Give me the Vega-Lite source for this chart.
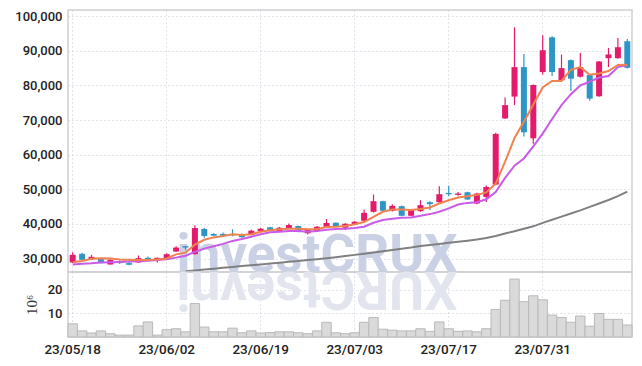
{
"$schema":"https://vega.github.io/schema/vega-lite/v6.json",
"padding":{"left":14,"top":9,"right":10,"bottom":5},
"background":"white",
"spacing":0,
"bounds":"flush",
"config":{
 "view":{"stroke":"#cfcfd4","strokeWidth":1.5},
 "axis":{"labelFont":"Roboto","labelFontWeight":500,"labelFontSize":13,"labelColor":"#222222","gridColor":"#c3c8da","gridDash":[1,3],"gridWidth":1,"domain":false,"ticks":false,"labelPadding":6,"labelOverlap":false}
},
"datasets":{"k":[
{"d":"23/05/18","o":28850,"h":31840,"l":28700,"c":31060,"v":5.6,"m5":28900,"m20":28300,"m60":null},
{"d":"23/05/19","o":31350,"h":31640,"l":29500,"c":29630,"v":2.6,"m5":29300,"m20":28450,"m60":null},
{"d":"23/05/22","o":29710,"h":31060,"l":29600,"c":30490,"v":1.7,"m5":29900,"m20":28600,"m60":null},
{"d":"23/05/23","o":29830,"h":30110,"l":28600,"c":28680,"v":2.6,"m5":30050,"m20":28850,"m60":null},
{"d":"23/05/24","o":28280,"h":29800,"l":28200,"c":29630,"v":1.4,"m5":30000,"m20":28950,"m60":null},
{"d":"23/05/25","o":29140,"h":29500,"l":28400,"c":28680,"v":0.8,"m5":29700,"m20":29000,"m60":null},
{"d":"23/05/26","o":28680,"h":28900,"l":28050,"c":28190,"v":0.8,"m5":29650,"m20":29100,"m60":null},
{"d":"23/05/30","o":28850,"h":30860,"l":28800,"c":30110,"v":4.7,"m5":29600,"m20":29200,"m60":null},
{"d":"23/05/31","o":30200,"h":30550,"l":29400,"c":29830,"v":6.4,"m5":29600,"m20":29350,"m60":null},
{"d":"23/06/01","o":29710,"h":30300,"l":28850,"c":30200,"v":0.8,"m5":29700,"m20":29550,"m60":null},
{"d":"23/06/02","o":30110,"h":31500,"l":30000,"c":31260,"v":3.1,"m5":30000,"m20":29800,"m60":null},
{"d":"23/06/05","o":32010,"h":33560,"l":31900,"c":33160,"v":3.5,"m5":31200,"m20":30250,"m60":null},
{"d":"23/06/07","o":33560,"h":33700,"l":32500,"c":33160,"v":2.2,"m5":31700,"m20":30800,"m60":26300},
{"d":"23/06/08","o":31260,"h":39600,"l":31100,"c":38800,"v":14.2,"m5":34000,"m20":31900,"m60":26550},
{"d":"23/06/09","o":38520,"h":38800,"l":36030,"c":36510,"v":4.2,"m5":35400,"m20":32850,"m60":26800},
{"d":"23/06/12","o":37090,"h":37300,"l":36400,"c":36600,"v":2.2,"m5":36100,"m20":33550,"m60":27050},
{"d":"23/06/13","o":37090,"h":37500,"l":36200,"c":36510,"v":2.2,"m5":36500,"m20":34220,"m60":27300},
{"d":"23/06/14","o":36850,"h":38440,"l":36400,"c":36700,"v":3.75,"m5":37000,"m20":35080,"m60":27550},
{"d":"23/06/15","o":37000,"h":37200,"l":36000,"c":36140,"v":1.8,"m5":36800,"m20":35650,"m60":27800},
{"d":"23/06/16","o":36800,"h":38300,"l":36700,"c":38040,"v":2.6,"m5":37000,"m20":36310,"m60":28050},
{"d":"23/06/19","o":37860,"h":38800,"l":37700,"c":38610,"v":1.7,"m5":37750,"m20":37000,"m60":28300},
{"d":"23/06/20","o":39010,"h":39200,"l":37900,"c":38040,"v":1.9,"m5":38150,"m20":37580,"m60":28550},
{"d":"23/06/21","o":37950,"h":39100,"l":37800,"c":38900,"v":2.2,"m5":38440,"m20":37750,"m60":28800},
{"d":"23/06/22","o":38720,"h":40100,"l":38600,"c":39670,"v":2.2,"m5":38610,"m20":37950,"m60":29050},
{"d":"23/06/23","o":39380,"h":39500,"l":37600,"c":37750,"v":1.8,"m5":38610,"m20":37950,"m60":29300},
{"d":"23/06/26","o":37290,"h":38600,"l":36900,"c":38440,"v":1.4,"m5":38440,"m20":37750,"m60":29550},
{"d":"23/06/27","o":37950,"h":39400,"l":37800,"c":39180,"v":2.6,"m5":38500,"m20":37950,"m60":29800},
{"d":"23/06/28","o":39150,"h":41390,"l":39000,"c":40250,"v":6.25,"m5":39100,"m20":38300,"m60":30050},
{"d":"23/06/29","o":40330,"h":40400,"l":39100,"c":39180,"v":1.8,"m5":39180,"m20":38530,"m60":30350},
{"d":"23/06/30","o":38900,"h":40200,"l":38300,"c":40050,"v":1.4,"m5":39380,"m20":38610,"m60":30700},
{"d":"23/07/03","o":39870,"h":40800,"l":39700,"c":40620,"v":1.8,"m5":39870,"m20":38810,"m60":31050},
{"d":"23/07/04","o":40910,"h":44180,"l":40800,"c":43200,"v":6.25,"m5":40530,"m20":39180,"m60":31400},
{"d":"23/07/05","o":43490,"h":48480,"l":43300,"c":46560,"v":8.3,"m5":42050,"m20":40330,"m60":31750},
{"d":"23/07/06","o":46560,"h":46700,"l":43700,"c":43780,"v":3.3,"m5":43490,"m20":41110,"m60":32100},
{"d":"23/07/07","o":43780,"h":45700,"l":43600,"c":45210,"v":2.9,"m5":44180,"m20":41480,"m60":32450},
{"d":"23/07/10","o":45120,"h":45300,"l":42200,"c":42340,"v":2.6,"m5":44180,"m20":41770,"m60":32800},
{"d":"23/07/11","o":42340,"h":44100,"l":42200,"c":43980,"v":2.6,"m5":43980,"m20":41880,"m60":33150},
{"d":"23/07/12","o":43690,"h":46850,"l":43500,"c":45410,"v":3.5,"m5":44300,"m20":42340,"m60":33600},
{"d":"23/07/13","o":46270,"h":46550,"l":44000,"c":45700,"v":2.4,"m5":44750,"m20":42830,"m60":33900},
{"d":"23/07/14","o":46270,"h":50860,"l":46100,"c":48570,"v":6.4,"m5":45900,"m20":43490,"m60":34200},
{"d":"23/07/17","o":48940,"h":51000,"l":48000,"c":48570,"v":3.5,"m5":46850,"m20":44470,"m60":34550},
{"d":"23/07/18","o":48370,"h":49200,"l":48100,"c":48770,"v":2.4,"m5":47600,"m20":45600,"m60":34850},
{"d":"23/07/19","o":49140,"h":49300,"l":46950,"c":47050,"v":2.6,"m5":47990,"m20":46070,"m60":35150},
{"d":"23/07/20","o":45900,"h":49000,"l":45700,"c":48770,"v":2.2,"m5":48380,"m20":46270,"m60":35500},
{"d":"23/07/21","o":47790,"h":51100,"l":46360,"c":50660,"v":3.5,"m5":49100,"m20":47100,"m60":35950},
{"d":"23/07/24","o":51350,"h":66300,"l":51200,"c":66000,"v":11.7,"m5":51640,"m20":49230,"m60":36500},
{"d":"23/07/25","o":70470,"h":76490,"l":70300,"c":74310,"v":15.6,"m5":58000,"m20":53300,"m60":37200},
{"d":"23/07/26","o":76780,"h":96780,"l":74310,"c":85300,"v":24.6,"m5":64800,"m20":56800,"m60":37900},
{"d":"23/07/27","o":85300,"h":89120,"l":65220,"c":66460,"v":15.0,"m5":69500,"m20":58900,"m60":38600},
{"d":"23/07/28","o":64730,"h":80300,"l":63120,"c":80140,"v":17.5,"m5":74500,"m20":62400,"m60":39300},
{"d":"23/07/31","o":83870,"h":94490,"l":83200,"c":90180,"v":15.8,"m5":79400,"m20":66100,"m60":40300},
{"d":"23/08/01","o":93910,"h":94200,"l":82720,"c":83870,"v":9.3,"m5":81290,"m20":70300,"m60":41200},
{"d":"23/08/02","o":81490,"h":88940,"l":81300,"c":85010,"v":8.3,"m5":81290,"m20":74310,"m60":42100},
{"d":"23/08/03","o":87310,"h":87500,"l":78420,"c":81950,"v":6.25,"m5":84500,"m20":77470,"m60":43000},
{"d":"23/08/04","o":82520,"h":89410,"l":82300,"c":85300,"v":8.9,"m5":85300,"m20":80000,"m60":43900},
{"d":"23/08/07","o":83010,"h":83200,"l":75550,"c":76200,"v":4.6,"m5":83100,"m20":81090,"m60":44900},
{"d":"23/08/08","o":76880,"h":87100,"l":76700,"c":86920,"v":10.0,"m5":83450,"m20":82300,"m60":45900},
{"d":"23/08/09","o":87880,"h":90840,"l":85300,"c":88950,"v":7.5,"m5":84160,"m20":82720,"m60":46900},
{"d":"23/08/10","o":87880,"h":93710,"l":87700,"c":91050,"v":7.5,"m5":85900,"m20":85300,"m60":48000},
{"d":"23/08/11","o":92770,"h":93400,"l":84900,"c":85110,"v":5.1,"m5":85950,"m20":85880,"m60":49300}
],
"wm":[{"d":"23/06/27","t":"investCRUX","r":"XURCtsevni"}]},
"resolve":{"scale":{"x":"shared"}},
"vconcat":[
{
 "width":564,"height":262,
 "encoding":{
  "x":{"field":"d","type":"ordinal","scale":{"paddingInner":0,"paddingOuter":0,"domain":["23/05/18","23/05/19","23/05/22","23/05/23","23/05/24","23/05/25","23/05/26","23/05/30","23/05/31","23/06/01","23/06/02","23/06/05","23/06/07","23/06/08","23/06/09","23/06/12","23/06/13","23/06/14","23/06/15","23/06/16","23/06/19","23/06/20","23/06/21","23/06/22","23/06/23","23/06/26","23/06/27","23/06/28","23/06/29","23/06/30","23/07/03","23/07/04","23/07/05","23/07/06","23/07/07","23/07/10","23/07/11","23/07/12","23/07/13","23/07/14","23/07/17","23/07/18","23/07/19","23/07/20","23/07/21","23/07/24","23/07/25","23/07/26","23/07/27","23/07/28","23/07/31","23/08/01","23/08/02","23/08/03","23/08/04","23/08/07","23/08/08","23/08/09","23/08/10","23/08/11"]},
   "axis":{"title":null,"labels":false,"grid":true,"bandPosition":0.5,"values":["23/05/18","23/06/02","23/06/19","23/07/03","23/07/17","23/07/31"]}}
 },
 "layer":[
  {"data":{"name":"k"},"mark":{"type":"rule","strokeWidth":1.2,"opacity":0},
   "encoding":{"y":{"field":"l","type":"quantitative","scale":{"domain":[26100,101800],"nice":false,"zero":false},
     "axis":{"title":null,"grid":true,"labelOverlap":false,"tickCount":8,"values":[30000,40000,50000,60000,70000,80000,90000,100000],"format":",d"}},
    "y2":{"field":"h"}}},
  {"data":{"name":"wm"},"mark":{"type":"text","font":"Roboto","fontWeight":"bold","fontSize":53,"color":"#cbd1e5","baseline":"alphabetic","align":"center"},
   "encoding":{"text":{"field":"t"},"y":{"datum":26100,"type":"quantitative"}}},
  {"data":{"name":"k"},"mark":{"type":"rule","strokeWidth":1.2},
   "encoding":{
    "y":{"field":"l","type":"quantitative"},
    "y2":{"field":"h"},
    "color":{"condition":{"test":"datum.c >= datum.o","value":"#e31b6a"},"value":"#2e95c7"}}},
  {"data":{"name":"k"},"mark":{"type":"bar","size":6},
   "encoding":{
    "y":{"field":"o","type":"quantitative"},
    "y2":{"field":"c"},
    "color":{"condition":{"test":"datum.c >= datum.o","value":"#e31b6a"},"value":"#2e95c7"}}},
  {"data":{"name":"k"},"mark":{"type":"line","color":"#808080","strokeWidth":2},
   "encoding":{"y":{"field":"m60","type":"quantitative"}}},
  {"data":{"name":"k"},"mark":{"type":"line","color":"#c95be8","strokeWidth":2},
   "encoding":{"y":{"field":"m20","type":"quantitative"}}},
  {"data":{"name":"k"},"mark":{"type":"line","color":"#f0824f","strokeWidth":2},
   "encoding":{"y":{"field":"m5","type":"quantitative"}}}
 ]
},
{
 "width":564,"height":65,
 "encoding":{
  "x":{"field":"d","type":"ordinal",
   "axis":{"title":null,"labelAngle":0,"labelPadding":5,"labelFontSize":13.5,"grid":true,"bandPosition":0.5,"values":["23/05/18","23/06/02","23/06/19","23/07/03","23/07/17","23/07/31"]}}
 },
 "layer":[
  {"data":{"name":"wm"},"mark":{"type":"text","font":"Roboto","fontWeight":"bold","fontSize":53,"color":"#e3e5ee","baseline":"alphabetic","align":"center","angle":180},
   "encoding":{"text":{"field":"r"},"y":{"datum":27.6,"type":"quantitative","scale":{"domain":[0,27.6],"nice":false},
     "axis":{"title":"10⁶","titleFont":"Liberation Serif","titleFontWeight":"normal","titleFontSize":15,"titleColor":"#333333","titlePadding":8,"grid":true,"values":[10,20]}}}},
  {"data":{"name":"k"},"mark":{"type":"bar","fill":"#dadada","stroke":"#b9b9b9","strokeWidth":1},
   "encoding":{"y":{"field":"v","type":"quantitative"}}}
 ]
}
]
}
